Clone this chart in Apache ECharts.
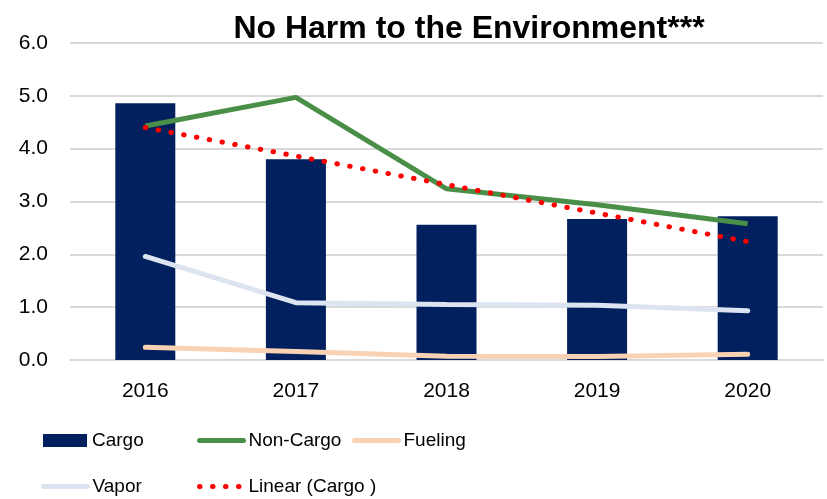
<!DOCTYPE html>
<html>
<head>
<meta charset="utf-8">
<script src="https://cdn.jsdelivr.net/npm/echarts@6/dist/echarts.min.js"></script>
<style>html,body{margin:0;padding:0;background:#fff}#c{width:827px;height:499px}</style>
</head>
<body>
<div id="c"></div>
<script>
const categories = ['2016', '2017', '2018', '2019', '2020'];
const cargo = [4.86, 3.80, 2.56, 2.67, 2.72];
const nonCargo = [4.43, 4.97, 3.24, 2.94, 2.58];
const fueling = [0.24, 0.16, 0.07, 0.065, 0.11];
const vapor = [1.96, 1.085, 1.05, 1.035, 0.93];
const linearCargo = [4.40, 3.86, 3.32, 2.78, 2.24];
const yTicks = { min: 0, max: 6, interval: 1 };

const FONT = "'Liberation Sans', Arial, sans-serif";
const NARROW = "'Liberation Sans Narrow', 'Arial Narrow', 'Liberation Sans', sans-serif";

const legendBase = {
  itemWidth: 44, itemHeight: 13, itemGap: 0, padding: 0,
  textStyle: { fontFamily: NARROW, fontSize: 19, color: '#000' },
  selectedMode: false
};
function lg(name, left, top, extra) {
  return Object.assign({}, legendBase, { data: [name], left: left, top: top }, extra || {});
}
const lineLegend = { lineStyle: { width: 5, cap: 'round' }, itemStyle: { opacity: 0 } };

const chart = echarts.init(document.getElementById('c'), null, { renderer: 'canvas' });
chart.setOption({
  animation: false,
  backgroundColor: '#fff',
  title: {
    text: 'No Harm to the Environment***',
    left: 464, top: 8, textAlign: 'center',
    textStyle: { fontFamily: FONT, fontWeight: 'bold', fontSize: 32, color: '#000' }
  },
  legend: [
    lg('Cargo', 43, 431, { icon: 'rect' }),
    lg('Non-Cargo', 197, 431, lineLegend),
    lg('Fueling', 352, 431, lineLegend),
    lg('Vapor', 41, 477, lineLegend),
    lg('Linear (Cargo )', 197, 477, lineLegend)
  ],
  grid: { left: 70, right: 4, top: 43, bottom: 139, containLabel: false },
  xAxis: {
    type: 'category', data: categories,
    axisLine: { show: true, lineStyle: { color: '#d9d9d9', width: 2 } },
    axisTick: { show: false },
    axisLabel: { fontFamily: FONT, fontSize: 21, color: '#000', margin: 21 }
  },
  yAxis: {
    type: 'value', min: yTicks.min, max: yTicks.max, interval: yTicks.interval,
    axisLine: { show: false }, axisTick: { show: false },
    splitLine: { lineStyle: { color: '#d9d9d9', width: 2 } },
    axisLabel: { fontFamily: FONT, fontSize: 21, color: '#000', margin: 22,
      formatter: v => v.toFixed(1) }
  },
  series: [
    { name: 'Cargo', type: 'bar', data: cargo, barWidth: 60,
      itemStyle: { color: '#02205e' } },
    { name: 'Non-Cargo', type: 'line', data: nonCargo, symbol: 'none',
      lineStyle: { color: '#4a8f47', width: 5 }, itemStyle: { color: '#4a8f47' } },
    { name: 'Fueling', type: 'line', data: fueling, symbol: 'none',
      lineStyle: { color: '#f9d2b4', width: 5, cap: 'round' }, itemStyle: { color: '#f9d2b4' } },
    { name: 'Vapor', type: 'line', data: vapor, symbol: 'none',
      lineStyle: { color: '#dbe4f0', width: 5, cap: 'round' }, itemStyle: { color: '#dbe4f0' } },
    { name: 'Linear (Cargo )', type: 'line', data: linearCargo, symbol: 'none',
      lineStyle: { color: '#ff0000', width: 5, type: [0.5, 12.5], cap: 'round' },
      itemStyle: { color: '#ff0000' } }
  ]
});
</script>
</body>
</html>
